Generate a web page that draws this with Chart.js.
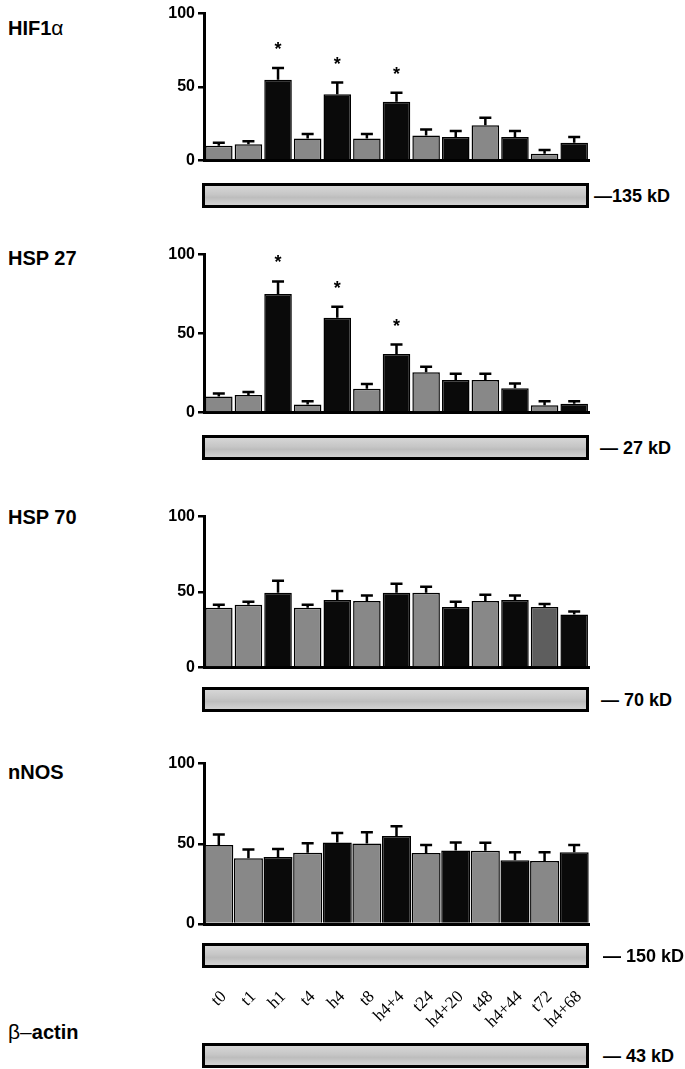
<!DOCTYPE html>
<html>
<head>
<meta charset="utf-8">
<script src="https://cdn.jsdelivr.net/npm/chart.js@4.4.0/dist/chart.umd.min.js"></script>
<style>
  body { margin:0; background:#fff; width:685px; height:1069px; position:relative; overflow:hidden;
         font-family:"Liberation Sans", Arial, sans-serif; color:#000; }
  canvas { position:absolute; left:0; }
  .name { position:absolute; left:8px; font-weight:bold; font-size:20px; line-height:24px; white-space:nowrap; }
  .name .greek { font-weight:normal; font-size:21px; }
  .strip { position:absolute; left:202px; width:381px; height:19px; border:3px solid #000;
           background:linear-gradient(to bottom, #d6d6d6 0%, #c6c6c6 45%, #bdbdbd 60%, #d2d2d2 100%); }
  .kd { position:absolute; font-weight:bold; font-size:18px; line-height:24px; white-space:nowrap; }
</style>
</head>
<body>
<div class="name" style="top:16px">HIF1<span class="greek">α</span></div>
<div class="name" style="top:246px">HSP 27</div>
<div class="name" style="top:505px">HSP 70</div>
<div class="name" style="top:760px">nNOS</div>
<div class="name" style="top:1020px"><span class="greek">β–</span>actin</div>

<canvas id="hif1" width="685" height="172" style="top:1px"></canvas>
<canvas id="hsp27" width="685" height="183" style="top:242px"></canvas>
<canvas id="hsp70" width="685" height="176" style="top:504px"></canvas>
<canvas id="nnos" width="685" height="289" style="top:751px"></canvas>

<div class="strip" style="top:183px"></div><div class="kd" style="top:184px;left:594px">—135 kD</div>
<div class="strip" style="top:435px"></div><div class="kd" style="top:436px;left:600px">— 27 kD</div>
<div class="strip" style="top:687px"></div><div class="kd" style="top:688px;left:601px">— 70 kD</div>
<div class="strip" style="top:943px"></div><div class="kd" style="top:944px;left:603px">— 150 kD</div>
<div class="strip" style="top:1043px"></div><div class="kd" style="top:1044px;left:603px">— 43 kD</div>

<script>
// time points (t = normoxia, h = hypoxia)
const labels = ['t0','t1','h1','t4','h4','t8','h4+4','t24','h4+20','t48','h4+44','t72','h4+68'];

const hif1Mean = [10, 11, 55, 15, 45, 15, 40, 17, 16, 24, 16, 4.5, 12];
const hif1Sem  = [2, 2, 8, 3, 8, 3, 6, 4, 4, 5, 4, 2.5, 4];
const hif1Sig  = [0, 0, 1, 0, 1, 0, 1, 0, 0, 0, 0, 0, 0];

const hsp27Mean = [10, 11, 75, 5, 60, 15, 37, 25.5, 20.5, 20.5, 15.3, 4.5, 5.5];
const hsp27Sem  = [2, 2, 8, 2, 7, 3, 6, 3.5, 4, 4, 3, 2.5, 1.5];
const hsp27Sig  = [0, 0, 1, 0, 1, 0, 1, 0, 0, 0, 0, 0, 0];

const hsp70Mean = [39.5, 41.5, 49.5, 39.5, 44.7, 44.1, 49.5, 49.5, 40, 44.1, 44.7, 40, 35];
const hsp70Sem  = [2, 2, 8, 2, 6, 3.5, 6, 4, 3.5, 4, 3, 2, 2];

const nnosMean = [49.3, 41, 41.7, 44.4, 50.8, 50.2, 54.9, 44.2, 45.8, 45.6, 39.8, 39.2, 44.8];
const nnosSem  = [6.5, 5.5, 5, 6, 6, 7, 6, 5, 5, 5, 5, 5.5, 4.5];

const GRAY = '#888888', BLACK = '#0a0a0a';
const baseColors = labels.map(l => l[0] === 'h' ? BLACK : GRAY);
const hsp70Colors = baseColors.map((c, i) => labels[i] === 't72' ? '#5e5e5e' : c);

// upward error bars, significance stars and the slanted time labels
const errorBars = {
  id: 'errorBars',
  afterDatasetsDraw(chart, args, opts) {
    const ctx = chart.ctx, x = chart.scales.x, y = chart.scales.y;
    const ds = chart.data.datasets[0];
    const meta = chart.getDatasetMeta(0);
    ctx.save();
    ctx.strokeStyle = '#000';
    ctx.fillStyle = '#000';
    ctx.lineWidth = 2.5;
    meta.data.forEach((bar, i) => {
      const top = y.getPixelForValue(ds.data[i] + opts.sem[i]);
      ctx.beginPath();
      ctx.moveTo(bar.x, bar.y);
      ctx.lineTo(bar.x, top);
      ctx.moveTo(bar.x - 6, top);
      ctx.lineTo(bar.x + 6, top);
      ctx.stroke();
      if (opts.sig && opts.sig[i]) {
        ctx.font = 'bold 18px "Liberation Sans", Arial, sans-serif';
        ctx.textAlign = 'center';
        ctx.textBaseline = 'middle';
        ctx.fillText('*', bar.x, top - 18);
      }
    });
    if (opts.timeLabels) {
      ctx.font = '17px "Liberation Serif", "Times New Roman", serif';
      ctx.textAlign = 'right';
      ctx.textBaseline = 'middle';
      chart.data.labels.forEach((lab, i) => {
        ctx.save();
        ctx.translate(x.getPixelForValue(i) + 5, x.top + opts.labelGap);
        ctx.rotate(-Math.PI / 4);
        ctx.fillText(lab, 0, 0);
        ctx.restore();
      });
    }
    ctx.restore();
  }
};

function makeChart(id, values, sem, sig, colors, xHeight, timeLabels, barPct) {
  return new Chart(document.getElementById(id), {
    type: 'bar',
    data: {
      labels: labels,
      datasets: [{
        data: values,
        backgroundColor: colors,
        borderColor: '#000',
        borderWidth: 1.5,
        barPercentage: barPct,
        categoryPercentage: 1
      }]
    },
    options: {
      responsive: false,
      animation: false,
      layout: { padding: { top: 12, right: 96, bottom: 0, left: 0 } },
      plugins: {
        legend: { display: false },
        tooltip: { enabled: false },
        errorBars: { sem: sem, sig: sig, timeLabels: timeLabels, labelGap: 70 }
      },
      scales: {
        x: {
          offset: true,
          grid: { display: false, drawTicks: false },
          border: { color: '#000', width: 3 },
          ticks: { display: false },
          afterFit: s => { s.height = xHeight; }
        },
        y: {
          min: 0, max: 100,
          ticks: {
            stepSize: 50, padding: 3, color: '#000',
            font: { family: '"Liberation Sans", Arial, sans-serif', weight: 'bold', size: 16 }
          },
          grid: { drawOnChartArea: false, drawTicks: true, tickLength: 6, color: '#000', lineWidth: 2.5 },
          border: { color: '#000', width: 3 },
          afterFit: s => { s.width = 204; }
        }
      }
    },
    plugins: [errorBars]
  });
}

makeChart('hif1', hif1Mean, hif1Sem, hif1Sig, baseColors, 6, false, 0.93);
makeChart('hsp27', hsp27Mean, hsp27Sem, hsp27Sig, baseColors, 6, false, 0.93);
makeChart('hsp70', hsp70Mean, hsp70Sem, null, hsp70Colors, 6, false, 0.93);
makeChart('nnos', nnosMean, nnosSem, null, baseColors, 116, true, 0.98);
</script>
</body>
</html>
